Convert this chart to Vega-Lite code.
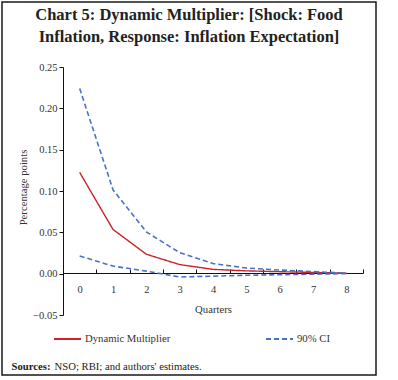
{
  "$schema": "https://vega.github.io/schema/vega-lite/v6.json",
  "autosize": {"type": "none"},
  "width": 374,
  "height": 373,
  "padding": {"left": 2, "top": 2, "right": 22, "bottom": 5},
  "background": "white",
  "config": {
    "view": {"stroke": "#1a1a1a", "strokeWidth": 1.5},
    "font": "Liberation Serif",
    "axis": {"labelFont": "Liberation Serif", "titleFont": "Liberation Serif", "labelColor": "#333", "titleColor": "#333", "domainColor": "#111", "tickColor": "#111", "labelFontSize": 10.5, "titleFontSize": 10.7, "titleFontWeight": "normal", "grid": false},
    "legend": {"labelFont": "Liberation Serif", "labelFontSize": 10.7, "labelColor": "#333"}
  },
  "title": {
    "text": ["Chart 5: Dynamic Multiplier: [Shock: Food", "Inflation, Response: Inflation Expectation]"],
    "font": "Liberation Serif",
    "fontSize": 16.5,
    "fontWeight": "bold",
    "color": "#222",
    "anchor": "middle",
    "frame": "group",
    "lineHeight": 22,
    "offset": -43
  },
  "data": {
    "values": [
      {"q": "0", "series": "Dynamic Multiplier", "band": "mid", "value": 0.1225},
      {"q": "1", "series": "Dynamic Multiplier", "band": "mid", "value": 0.0535},
      {"q": "2", "series": "Dynamic Multiplier", "band": "mid", "value": 0.0235},
      {"q": "3", "series": "Dynamic Multiplier", "band": "mid", "value": 0.011},
      {"q": "4", "series": "Dynamic Multiplier", "band": "mid", "value": 0.0052},
      {"q": "5", "series": "Dynamic Multiplier", "band": "mid", "value": 0.0034},
      {"q": "6", "series": "Dynamic Multiplier", "band": "mid", "value": 0.0024},
      {"q": "7", "series": "Dynamic Multiplier", "band": "mid", "value": 0.0015},
      {"q": "8", "series": "Dynamic Multiplier", "band": "mid", "value": 0.0007},
      {"q": "0", "series": "90% CI", "band": "upper", "value": 0.224},
      {"q": "1", "series": "90% CI", "band": "upper", "value": 0.1015},
      {"q": "2", "series": "90% CI", "band": "upper", "value": 0.0505},
      {"q": "3", "series": "90% CI", "band": "upper", "value": 0.0254},
      {"q": "4", "series": "90% CI", "band": "upper", "value": 0.0122},
      {"q": "5", "series": "90% CI", "band": "upper", "value": 0.0068},
      {"q": "6", "series": "90% CI", "band": "upper", "value": 0.0044},
      {"q": "7", "series": "90% CI", "band": "upper", "value": 0.0025},
      {"q": "8", "series": "90% CI", "band": "upper", "value": 0.0007},
      {"q": "0", "series": "90% CI", "band": "lower", "value": 0.0213},
      {"q": "1", "series": "90% CI", "band": "lower", "value": 0.0092},
      {"q": "2", "series": "90% CI", "band": "lower", "value": 0.0031},
      {"q": "3", "series": "90% CI", "band": "lower", "value": -0.004},
      {"q": "4", "series": "90% CI", "band": "lower", "value": -0.003},
      {"q": "5", "series": "90% CI", "band": "lower", "value": -0.002},
      {"q": "6", "series": "90% CI", "band": "lower", "value": -0.0012},
      {"q": "7", "series": "90% CI", "band": "lower", "value": -0.0006},
      {"q": "8", "series": "90% CI", "band": "lower", "value": 0.0}
    ]
  },
  "encoding": {
    "y": {
      "field": "value",
      "type": "quantitative",
      "scale": {"domain": [-0.05, 0.25], "range": [313, 65], "nice": false, "zero": false},
      "axis": {
        "values": [-0.05, 0, 0.05, 0.1, 0.15, 0.2, 0.25],
        "format": ".2f",
        "offset": -61,
        "tickSize": 4,
        "labelPadding": 2,
        "title": "Percentage points",
        "titleX": -40,
        "titleY": 185,
        "titleBaseline": "middle",
        "titleAlign": "center",
        "titleAngle": -90
      }
    },
    "color": {
      "field": "series",
      "type": "nominal",
      "scale": {"domain": ["Dynamic Multiplier", "90% CI"], "range": ["#cc2229", "#4a72c4"]},
      "legend": {
        "title": null,
        "orient": "none",
        "legendX": 51,
        "legendY": 322,
        "direction": "horizontal",
        "columns": 2,
        "columnPadding": 91,
        "symbolType": "stroke",
        "symbolSize": 729,
        "symbolStrokeWidth": 2,
        "labelOffset": 3,
        "padding": 0
      }
    },
    "strokeDash": {
      "field": "series",
      "type": "nominal",
      "scale": {"domain": ["Dynamic Multiplier", "90% CI"], "range": [[1, 0], [5, 3]]},
      "legend": {
        "title": null,
        "orient": "none",
        "legendX": 51,
        "legendY": 322,
        "direction": "horizontal",
        "columns": 2,
        "columnPadding": 91,
        "symbolType": "stroke",
        "symbolSize": 729,
        "symbolStrokeWidth": 2,
        "labelOffset": 3,
        "padding": 0
      }
    }
  },
  "layer": [
    {
      "transform": [{"filter": "datum.band === 'mid'"}],
      "mark": {"type": "line", "strokeWidth": 1.4},
      "encoding": {
        "x": {
          "field": "q",
          "type": "ordinal",
          "bandPosition": 0.5,
          "scale": {"type": "band", "range": [61, 361], "paddingInner": 0, "paddingOuter": 0},
          "axis": {
            "orient": "bottom",
            "offset": -102,
            "tickBand": "extent",
            "tickSize": -4,
            "labelAngle": 0,
            "labelPadding": 15,
            "title": "Quarters",
            "titlePadding": 10
          }
        }
      }
    },
    {
      "transform": [{"filter": "datum.band === 'upper'"}],
      "mark": {"type": "line", "strokeWidth": 1.6},
      "encoding": {
        "x": {
          "field": "q",
          "type": "ordinal",
          "bandPosition": 0.5,
          "scale": {"type": "band", "range": [61, 361], "paddingInner": 0, "paddingOuter": 0},
          "axis": {
            "orient": "bottom",
            "offset": 0,
            "domain": false,
            "ticks": false,
            "labels": false,
            "title": "Sources:",
            "titleFontWeight": "bold",
            "titleColor": "#222",
            "titleX": 9,
            "titleY": -6,
            "titleAlign": "left",
            "titleAnchor": null,
            "titleBaseline": "alphabetic"
          }
        }
      }
    },
    {
      "transform": [{"filter": "datum.band === 'lower'"}],
      "mark": {"type": "line", "strokeWidth": 1.6},
      "encoding": {
        "x": {
          "field": "q",
          "type": "ordinal",
          "bandPosition": 0.5,
          "scale": {"type": "band", "range": [61, 361], "paddingInner": 0, "paddingOuter": 0},
          "axis": {
            "orient": "bottom",
            "offset": 0,
            "domain": false,
            "ticks": false,
            "labels": false,
            "title": "NSO; RBI; and authors' estimates.",
            "titleColor": "#222",
            "titleX": 52,
            "titleY": -6,
            "titleAlign": "left",
            "titleAnchor": null,
            "titleBaseline": "alphabetic"
          }
        }
      }
    }
  ],
  "resolve": {"axis": {"x": "independent"}}
}
